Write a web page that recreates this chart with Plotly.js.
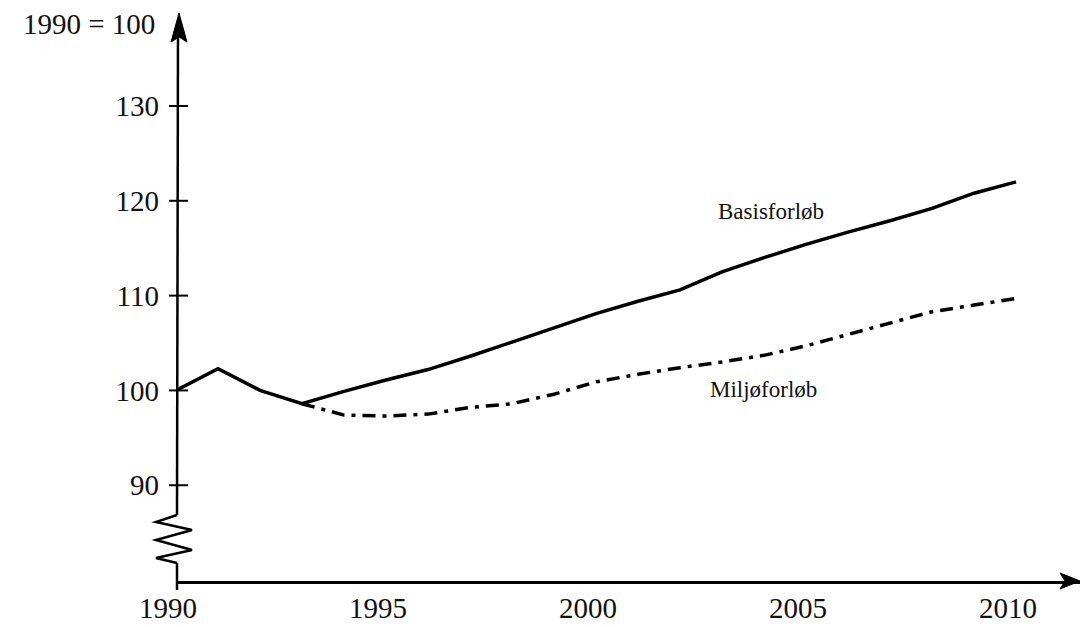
<!DOCTYPE html>
<html>
<head>
<meta charset="utf-8">
<script src="https://cdn.plot.ly/plotly-3.0.1.min.js"></script>
<style>html,body{margin:0;padding:0;background:#fff;}#chart{width:1081px;height:627px;}</style>
</head>
<body>
<div id="chart"></div>
<script>
// ---- data ----
const basisYears = [1990,1991,1992,1993,1994,1995,1996,1997,1998,1999,2000,2001,2002,2003,2004,2005,2006,2007,2008,2009,2010];
const basisValues = [100.0,102.3,100.0,98.6,99.9,101.1,102.2,103.6,105.1,106.6,108.1,109.4,110.6,112.5,114.0,115.4,116.7,117.9,119.2,120.8,122.0];
const miljoYears = [1993,1994,1995,1996,1997,1998,1999,2000,2001,2002,2003,2004,2005,2006,2007,2008,2009,2010];
const miljoValues = [98.6,97.4,97.3,97.5,98.2,98.6,99.6,100.9,101.7,102.4,103.0,103.7,104.7,105.9,107.1,108.3,109.0,109.7];
const xTickVals = [1990,1995,2000,2005,2010];
const xTickText = ['1990','1995','2000','2005','2010'];
const yTickVals = [90,100,110,120,130];
const yTickText = ['90','100','110','120','130'];
const seriesNames = ['Basisforløb','Miljøforløb'];
const indexLabel = '1990 = 100';

// ---- layout helpers (pixel -> paper) ----
const W = 1081, H = 627, ML = 176, MR = 1, MT = 14, MB = 46;
const PW = W - ML - MR, PH = H - MT - MB;
const px = v => (v - ML) / PW;
const py = v => (H - MB - v) / PH;

const tickFont = {family: '"Liberation Serif", serif', size: 29, color: '#111'};
const labelFont = {family: '"Liberation Serif", serif', size: 23, color: '#111'};

const traces = [
  {x: basisYears, y: basisValues, name: seriesNames[0], mode: 'lines', type: 'scatter',
   line: {color: '#000', width: 3.5, shape: 'linear'}, hoverinfo: 'x+y'},
  {x: miljoYears, y: miljoValues, name: seriesNames[1], mode: 'lines', type: 'scatter',
   line: {color: '#000', width: 3.5, dash: '13px,7px,4px,7px'}, hoverinfo: 'x+y'}
];

// decorative shapes: y axis line with break, arrowheads, crossing y ticks
const shapes = [];
const axisStyle = {color: '#000', width: 2.5};
shapes.push({type: 'line', xref: 'paper', yref: 'paper', x0: px(177), x1: px(178), y0: py(515), y1: py(30), line: axisStyle});
const zz = [[177,515],[156,522],[192,530],[156,540],[192,550],[156,558],[177,563]];
shapes.push({type: 'path', xref: 'paper', yref: 'paper',
  path: 'M ' + zz.map(p => px(p[0]) + ',' + py(p[1])).join(' L '), line: axisStyle});
shapes.push({type: 'line', xref: 'paper', yref: 'paper', x0: px(177), x1: px(177), y0: py(563), y1: py(590), line: axisStyle});
shapes.push({type: 'path', xref: 'paper', yref: 'paper',
  path: `M ${px(179)},${py(13)} L ${px(171)},${py(42)} L ${px(179)},${py(37)} L ${px(187)},${py(42)} Z`,
  fillcolor: '#000', line: {color: '#000', width: 1}});
shapes.push({type: 'path', xref: 'paper', yref: 'paper',
  path: `M ${px(1080)},${py(581)} L ${px(1060)},${py(573)} L ${px(1065)},${py(581)} L ${px(1060)},${py(589)} Z`,
  fillcolor: '#000', line: {color: '#000', width: 1}});
yTickVals.forEach(v => {
  shapes.push({type: 'line', xref: 'paper', yref: 'y', x0: px(169), x1: px(188), y0: v, y1: v, line: {color: '#000', width: 2}});
});

const annotations = [
  {xref: 'paper', yref: 'paper', x: px(157), y: py(24), xanchor: 'right', yanchor: 'middle',
   text: indexLabel, showarrow: false, font: tickFont},
  {xref: 'x', yref: 'y', x: 2004.17, y: 118.9, xanchor: 'center', yanchor: 'middle',
   text: seriesNames[0], showarrow: false, font: labelFont},
  {xref: 'x', yref: 'y', x: 2003.98, y: 100.1, xanchor: 'center', yanchor: 'middle',
   text: seriesNames[1], showarrow: false, font: labelFont}
];

const layout = {
  width: W, height: H,
  margin: {l: ML, r: MR, t: MT, b: MB, pad: 0},
  paper_bgcolor: '#fff', plot_bgcolor: '#fff',
  showlegend: false,
  xaxis: {
    range: [1990, 1990 + PW / 42], showgrid: false, zeroline: false,
    showline: true, linecolor: '#000', linewidth: 2.5,
    tickmode: 'array', tickvals: xTickVals, ticktext: xTickText,
    ticks: '', tickfont: tickFont, ticklabelstandoff: 0, ticklabelshift: -8
  },
  yaxis: {
    range: [79.9, 139.7], showgrid: false, zeroline: false, showline: false,
    tickmode: 'array', tickvals: yTickVals, ticktext: yTickText,
    ticks: '', tickfont: tickFont, ticklabelstandoff: 16
  },
  shapes: shapes,
  annotations: annotations
};

Plotly.newPlot('chart', traces, layout, {displayModeBar: false, staticPlot: true});
</script>
</body>
</html>
